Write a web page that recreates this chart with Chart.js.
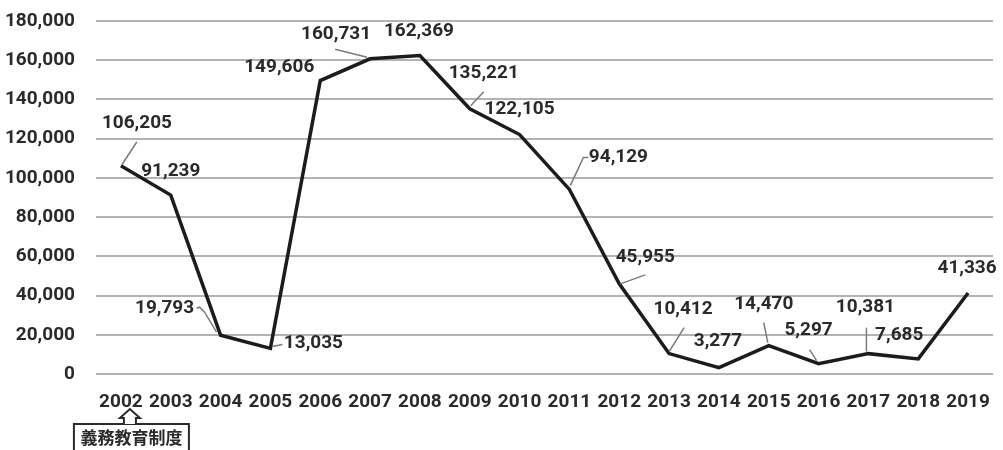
<!DOCTYPE html>
<html lang="ja">
<head>
    <meta charset="UTF-8">
    <title>Chart</title>
    <script src="https://cdn.jsdelivr.net/npm/chart.js"></script>
    <style>
        body, html {
            margin: 0;
            padding: 0;
            background: #ffffff;
            overflow: hidden;
        }
        #chart {
            display: block;
        }
    </style>
</head>
<body>
    <canvas id="chart" width="1003" height="450"></canvas>

    <script>
    const years = ['2002', '2003', '2004', '2005', '2006', '2007', '2008', '2009', '2010',
                   '2011', '2012', '2013', '2014', '2015', '2016', '2017', '2018', '2019'];
    const counts = [106205, 91239, 19793, 13035, 149606, 160731, 162369, 135221, 122105,
                    94129, 45955, 10412, 3277, 14470, 5297, 10381, 7685, 41336];
    const yTicks = [0, 20000, 40000, 60000, 80000, 100000, 120000, 140000, 160000, 180000];
    const noteText = '義務教育制度';

    // where each value label sits, relative to its point (px)
    const labelOffsets = [
        [16, -42], [0, -24], [-56, -27], [43, -5], [-41, -13], [-34, -25],
        [-1, -24], [14, -36], [0, -25], [49, -32], [26, -27], [14, -44],
        [-1, -26], [-5, -41], [-10, -33], [-3, -46], [-19, -24], [-1, -25]
    ];
    // leader lines from point to label, relative to point (px)
    const leaders = [
        [[1, -1], [16, -24]],
        null,
        [[-4, -3], [-16, -23], [-21, -28], [-24, -27]],
        [[2, -2], [12, -4]],
        null,
        [[-3, -1.5], [-35, -9.5]],
        null,
        [[1, -3], [14, -17]],
        null,
        [[1, -4], [14, -32], [19, -32]],
        [[1, 0], [26, -9]],
        [[0, -2], [15, -26]],
        null,
        [[-1, -3], [-5, -23]],
        [[-2, -3], [-9, -14]],
        [[-2, -2], [-2, -26]],
        null,
        null
    ];

    const textColor = '#2a2a2a';
    const fontFamily = 'Roboto, "Liberation Sans", sans-serif';

    const valueLabels = {
        id: 'valueLabels',
        afterDatasetsDraw(chart) {
            const ctx = chart.ctx;
            const meta = chart.getDatasetMeta(0);
            ctx.save();
            ctx.strokeStyle = '#7a7a7a';
            ctx.lineWidth = 1.5;
            meta.data.forEach((pt, i) => {
                const seg = leaders[i];
                if (!seg) return;
                ctx.beginPath();
                seg.forEach(([dx, dy], k) => {
                    if (k === 0) ctx.moveTo(pt.x + dx, pt.y + dy);
                    else ctx.lineTo(pt.x + dx, pt.y + dy);
                });
                ctx.stroke();
            });
            ctx.fillStyle = textColor;
            ctx.font = 'bold 19px ' + fontFamily;
            ctx.textAlign = 'center';
            ctx.textBaseline = 'middle';
            meta.data.forEach((pt, i) => {
                const [dx, dy] = labelOffsets[i];
                ctx.fillText(counts[i].toLocaleString('en-US'), pt.x + dx, pt.y + dy);
            });
            ctx.restore();
        }
    };

    const noteBox = {
        id: 'noteBox',
        afterDraw(chart) {
            const ctx = chart.ctx;
            const cx = chart.scales.x.getPixelForValue(0) + 9;
            const top = 424;
            ctx.save();
            ctx.strokeStyle = '#2a2a2a';
            ctx.lineWidth = 2;
            ctx.fillStyle = '#ffffff';
            ctx.strokeRect(cx - 56, top, 115, 40);
            ctx.beginPath();
            ctx.moveTo(cx - 6, top);
            ctx.lineTo(cx - 6, top - 6);
            ctx.lineTo(cx - 10, top - 6);
            ctx.lineTo(cx, top - 15);
            ctx.lineTo(cx + 10, top - 6);
            ctx.lineTo(cx + 6, top - 6);
            ctx.lineTo(cx + 6, top);
            ctx.fill();
            ctx.stroke();
            ctx.fillStyle = textColor;
            ctx.font = 'bold 17px "Noto Sans CJK JP", sans-serif';
            ctx.textAlign = 'center';
            ctx.textBaseline = 'middle';
            ctx.fillText(noteText, cx + 1.5, top + 14);
            ctx.restore();
        }
    };

    new Chart(document.getElementById('chart'), {
        type: 'line',
        data: {
            labels: years,
            datasets: [{
                data: counts,
                borderColor: '#1c1c1c',
                borderWidth: 3.5,
                tension: 0,
                pointRadius: 0,
                fill: false
            }]
        },
        options: {
            responsive: false,
            animation: false,
            layout: { padding: { top: 21, right: 10, left: 0, bottom: 0 } },
            plugins: {
                legend: { display: false },
                tooltip: { enabled: false }
            },
            scales: {
                x: {
                    offset: true,
                    grid: { display: false },
                    border: { display: false },
                    ticks: {
                        color: textColor,
                        padding: 9,
                        maxRotation: 0,
                        autoSkip: false,
                        font: { family: fontFamily, size: 19, weight: 'bold' }
                    },
                    afterFit(scale) { scale.height = 76; }
                },
                y: {
                    min: 0,
                    max: 180000,
                    afterBuildTicks(scale) {
                        scale.ticks = yTicks.map(v => ({ value: v }));
                    },
                    grid: {
                        color: '#b3b3b3',
                        lineWidth: 2,
                        drawTicks: true,
                        tickLength: 21,
                        tickColor: 'rgba(0,0,0,0)'
                    },
                    border: { display: false },
                    ticks: {
                        color: textColor,
                        padding: 0,
                        font: { family: fontFamily, size: 19, weight: 'bold' },
                        callback: v => v.toLocaleString('en-US')
                    },
                    afterFit(scale) { scale.width = 96; }
                }
            }
        },
        plugins: [valueLabels, noteBox]
    });
    </script>
</body>
</html>
